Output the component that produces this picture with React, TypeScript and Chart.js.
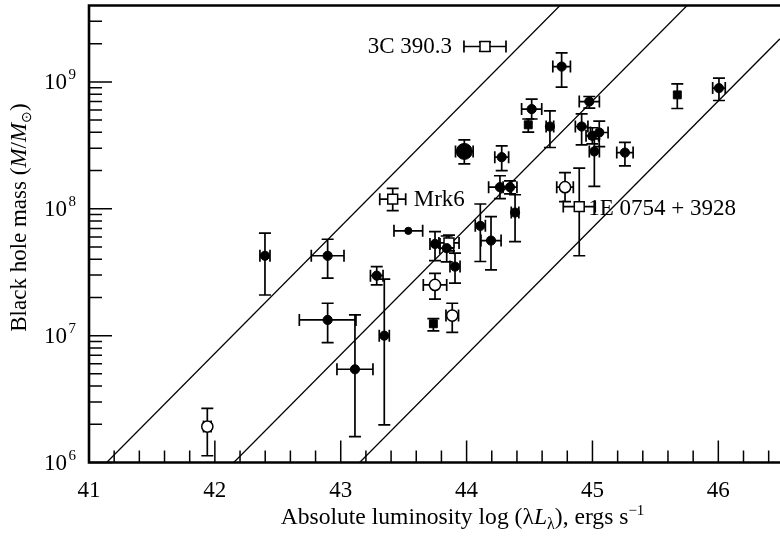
import { useEffect, useRef } from "react";
import { Chart, registerables } from "chart.js";

Chart.register(...registerables);

// ---- axes ----
const xMin = 41;
const xMax = 46.49;
const yMin = 1e6;
const yMax = 4e9;
const xTickLabels = [41, 42, 43, 44, 45, 46];
const yTickExponents = [6, 7, 8, 9];

// ---- reference relations: log M = log(λLλ) − offset ----
const relationOffsets = [35.14, 36.15, 37.15];

// ---- filled circles ----
const filledLogL = [44.755, 44.517, 44.975, 44.662, 44.914, 45.054, 44.999, 45.015, 45.258, 46.005, 44.279, 44.265, 44.345, 44.385, 44.109, 44.194, 43.749, 43.842, 43.908, 42.398, 42.896, 43.286, 43.346, 42.896, 43.113];
const filledMass = [1.32e9, 6.1e8, 7.0e8, 4.45e8, 4.45e8, 3.99e8, 3.76e8, 2.83e8, 2.77e8, 8.93e8, 2.55e8, 1.48e8, 1.48e8, 9.33e7, 7.33e7, 5.61e7, 5.28e7, 4.89e7, 3.5e7, 4.26e7, 4.26e7, 2.97e7, 1.0e7, 1.33e7, 5.43e6];
const filledLogLErr = [0.07, 0.08, 0.08, 0.03, 0.05, 0.07, 0.05, 0.04, 0.065, 0.05, 0.055, 0.09, 0.055, 0.03, 0.04, 0.08, 0.04, 0.055, 0.04, 0.04, 0.13, 0.05, 0.04, 0.225, 0.143];
const filledMassLow = [9.1e8, 5.1e8, 6.2e8, 3.04e8, 3.19e8, 3.09e8, 3.25e8, 1.5e8, 2.18e8, 7.13e8, 2.0e8, 1.2e8, 1.31e8, 5.5e7, 3.84e7, 3.3e7, 3.9e7, 3.81e7, 2.59e7, 2.09e7, 2.84e7, 2.51e7, 1.98e6, 8.8e6, 1.6e6];
const filledMassHigh = [1.69e9, 7.3e8, 7.67e8, 5.9e8, 5.6e8, 4.9e8, 4.35e8, 3.56e8, 3.33e8, 1.07e9, 3.13e8, 1.82e8, 1.66e8, 1.29e8, 1.09e8, 8.67e7, 6.6e7, 6.1e7, 4.47e7, 6.43e7, 5.75e7, 3.5e7, 2.79e7, 1.8e7, 1.46e7];

// ---- small filled point (luminosity error only) ----
const smallLogL = [43.537];
const smallMass = [6.7e7];
const smallLogLErr = [0.114];
const smallMassLow = [6.7e7];
const smallMassHigh = [6.7e7];

// ---- large filled point ----
const bigLogL = [43.982];
const bigMass = [2.83e8];
const bigLogLErr = [0.07];
const bigMassLow = [2.26e8];
const bigMassHigh = [3.49e8];

// ---- filled squares ----
const squareLogL = [44.49, 45.674, 43.736];
const squareMass = [4.59e8, 7.9e8, 1.24e7];
const squareLogLErr = [0, 0, 0];
const squareMassLow = [4.02e8, 6.17e8, 1.09e7];
const squareMassHigh = [5.1e8, 9.66e8, 1.36e7];

// ---- open squares (first three are named sources) ----
const openSquareLogL = [44.146, 43.413, 44.895, 43.86];
const openSquareMass = [1.9e9, 1.19e8, 1.04e8, 5.38e7];
const openSquareLogLErr = [0.167, 0.103, 0.127, 0.08];
const openSquareMassLow = [1.75e9, 9.68e7, 4.26e7, 4.65e7];
const openSquareMassHigh = [2.06e9, 1.45e8, 2.09e8, 6.2e7];
const sourceNames = ["3C 390.3", "Mrk6", "1E 0754 + 3928"];

// ---- open circles ----
const openCircleLogL = [44.782, 43.749, 43.886, 41.94];
const openCircleMass = [1.48e8, 2.51e7, 1.44e7, 1.92e6];
const openCircleLogLErr = [0.066, 0.093, 0.05, 0.03];
const openCircleMassLow = [1.14e8, 1.94e7, 1.06e7, 1.13e6];
const openCircleMassHigh = [1.93e8, 3.1e7, 1.8e7, 2.67e6];

const SERIF = '"Liberation Serif", "Times New Roman", serif';

type Run = { text: string; font: string; dy?: number };

function runsWidth(ctx: CanvasRenderingContext2D, runs: Run[]) {
  let w = 0;
  for (const r of runs) {
    ctx.font = r.font;
    w += ctx.measureText(r.text).width;
  }
  return w;
}

function drawRuns(ctx: CanvasRenderingContext2D, runs: Run[], x: number, y: number) {
  let cx = x;
  for (const r of runs) {
    ctx.font = r.font;
    ctx.fillText(r.text, cx, y + (r.dy || 0));
    cx += ctx.measureText(r.text).width;
  }
}

function points(xs: number[], ys: number[]) {
  return xs.map((x, i) => ({ x, y: ys[i] }));
}

const CAP = 6;

const errorBarPlugin = {
  id: "errorBars",
  beforeDatasetsDraw(chart: any) {
    const { ctx, scales } = chart;
    const xs = scales.x;
    const ys = scales.y;
    ctx.save();
    ctx.strokeStyle = "#000";
    ctx.lineWidth = 1.7;
    chart.data.datasets.forEach((ds: any) => {
      if (!ds.errX) return;
      ds.data.forEach((p: any, i: number) => {
        const px = xs.getPixelForValue(p.x);
        const py = ys.getPixelForValue(p.y);
        const dx = ds.errX[i];
        ctx.beginPath();
        if (dx > 0) {
          const x0 = xs.getPixelForValue(p.x - dx);
          const x1 = xs.getPixelForValue(p.x + dx);
          ctx.moveTo(x0, py);
          ctx.lineTo(x1, py);
          ctx.moveTo(x0, py - CAP);
          ctx.lineTo(x0, py + CAP);
          ctx.moveTo(x1, py - CAP);
          ctx.lineTo(x1, py + CAP);
        }
        const lo = ds.errLow[i];
        const hi = ds.errHigh[i];
        if (hi > lo) {
          const y0 = ys.getPixelForValue(hi);
          const y1 = ys.getPixelForValue(lo);
          ctx.moveTo(px, y0);
          ctx.lineTo(px, y1);
          ctx.moveTo(px - CAP, y0);
          ctx.lineTo(px + CAP, y0);
          ctx.moveTo(px - CAP, y1);
          ctx.lineTo(px + CAP, y1);
        }
        ctx.stroke();
      });
    });
    ctx.restore();
  },
};

const framePlugin = {
  id: "frame",
  afterDraw(chart: any) {
    const { ctx, chartArea, scales } = chart;
    const xs = scales.x;
    const ys = scales.y;
    const { left, right, top, bottom } = chartArea;
    ctx.save();
    ctx.strokeStyle = "#000";
    ctx.fillStyle = "#000";

    // ticks (pointing inward)
    ctx.lineWidth = 1.5;
    ctx.beginPath();
    for (let v = xMin; v <= xMax + 1e-9; v += 0.2) {
      const px = xs.getPixelForValue(v);
      const major = Math.abs(v - Math.round(v)) < 1e-6;
      ctx.moveTo(px, bottom);
      ctx.lineTo(px, bottom - (major ? 22 : 12));
    }
    for (let e = 6; e <= 9; e++) {
      for (let k = 1; k <= 9; k++) {
        const val = k * Math.pow(10, e);
        if (val < yMin || val >= yMax) continue;
        const py = ys.getPixelForValue(val);
        ctx.moveTo(left, py);
        ctx.lineTo(left + (k === 1 ? 23 : 13), py);
      }
    }
    ctx.stroke();

    // frame lines
    ctx.lineWidth = 2.6;
    ctx.beginPath();
    ctx.moveTo(right + 2, top);
    ctx.lineTo(left, top);
    ctx.lineTo(left, bottom);
    ctx.lineTo(right + 2, bottom);
    ctx.stroke();

    // x tick labels
    ctx.font = `23px ${SERIF}`;
    ctx.textAlign = "center";
    ctx.textBaseline = "alphabetic";
    xTickLabels.forEach((v) => {
      ctx.fillText(String(v), xs.getPixelForValue(v), bottom + 34);
    });

    // y tick labels 10^n
    yTickExponents.forEach((e) => {
      const py = ys.getPixelForValue(Math.pow(10, e));
      ctx.textAlign = "right";
      ctx.font = `23px ${SERIF}`;
      ctx.fillText("10", 67, py + 7.5);
      ctx.textAlign = "left";
      ctx.font = `15px ${SERIF}`;
      ctx.fillText(String(e), 68.5, py - 2.5);
    });

    // x axis title
    ctx.textAlign = "left";
    const xTitle: Run[] = [
      { text: "Absolute luminosity log (\u03BB", font: `23.6px ${SERIF}` },
      { text: "L", font: `italic 23.6px ${SERIF}` },
      { text: "\u03BB", font: `16px ${SERIF}`, dy: 5 },
      { text: "), ergs s", font: `23.6px ${SERIF}` },
      { text: "\u22121", font: `15px ${SERIF}`, dy: -9 },
    ];
    const xw = runsWidth(ctx, xTitle);
    drawRuns(ctx, xTitle, 462.5 - xw / 2, 524);

    // y axis title
    const yTitle: Run[] = [
      { text: "Black hole mass (", font: `23px ${SERIF}` },
      { text: "M", font: `italic 23px ${SERIF}` },
      { text: "/", font: `23px ${SERIF}` },
      { text: "M", font: `italic 23px ${SERIF}` },
      { text: "\u2299", font: `14px ${SERIF}`, dy: 5 },
      { text: ")", font: `23px ${SERIF}` },
    ];
    const yw = runsWidth(ctx, yTitle);
    ctx.save();
    ctx.translate(25.5, 217.5 + yw / 2);
    ctx.rotate(-Math.PI / 2);
    drawRuns(ctx, yTitle, 0, 0);
    ctx.restore();

    // source names next to their points
    ctx.font = `23px ${SERIF}`;
    sourceNames.forEach((name, i) => {
      const px = xs.getPixelForValue(openSquareLogL[i]);
      const py = ys.getPixelForValue(openSquareMass[i]);
      if (i === 0) {
        ctx.textAlign = "right";
        ctx.fillText(name, px - 33, py + 6.5);
      } else if (i === 1) {
        ctx.textAlign = "left";
        ctx.fillText(name, px + 21, py + 7);
      } else {
        ctx.textAlign = "left";
        ctx.fillText(name, px + 9, py + 8);
      }
    });
    ctx.restore();
  },
};

export default function App() {
  const canvasRef = useRef<HTMLCanvasElement | null>(null);

  useEffect(() => {
    if (!canvasRef.current) return;

    const lineDatasets = relationOffsets.map((off) => ({
      type: "line" as const,
      data: [
        { x: xMin, y: Math.pow(10, xMin - off) },
        { x: xMax, y: Math.pow(10, xMax - off) },
      ],
      borderColor: "#000",
      borderWidth: 1.3,
      pointRadius: 0,
      fill: false,
      order: 5,
    }));

    const markerDatasets: any[] = [
      {
        data: points(filledLogL, filledMass),
        errX: filledLogLErr,
        errLow: filledMassLow,
        errHigh: filledMassHigh,
        pointStyle: "circle",
        pointRadius: 4.6,
        backgroundColor: "#000",
        borderColor: "#000",
        borderWidth: 1,
      },
      {
        data: points(smallLogL, smallMass),
        errX: smallLogLErr,
        errLow: smallMassLow,
        errHigh: smallMassHigh,
        pointStyle: "circle",
        pointRadius: 3.6,
        backgroundColor: "#000",
        borderColor: "#000",
        borderWidth: 1,
      },
      {
        data: points(bigLogL, bigMass),
        errX: bigLogLErr,
        errLow: bigMassLow,
        errHigh: bigMassHigh,
        pointStyle: "circle",
        pointRadius: 8,
        backgroundColor: "#000",
        borderColor: "#000",
        borderWidth: 1,
      },
      {
        data: points(squareLogL, squareMass),
        errX: squareLogLErr,
        errLow: squareMassLow,
        errHigh: squareMassHigh,
        pointStyle: "rect",
        pointRadius: 5.6,
        backgroundColor: "#000",
        borderColor: "#000",
        borderWidth: 1,
      },
      {
        data: points(openSquareLogL, openSquareMass),
        errX: openSquareLogLErr,
        errLow: openSquareMassLow,
        errHigh: openSquareMassHigh,
        pointStyle: "rect",
        pointRadius: 7,
        backgroundColor: "#fff",
        borderColor: "#000",
        borderWidth: 1.5,
      },
      {
        data: points(openCircleLogL, openCircleMass),
        errX: openCircleLogLErr,
        errLow: openCircleMassLow,
        errHigh: openCircleMassHigh,
        pointStyle: "circle",
        pointRadius: 5.6,
        backgroundColor: "#fff",
        borderColor: "#000",
        borderWidth: 1.5,
      },
    ].map((d) => ({ ...d, type: "scatter" as const, order: 0, pointHoverRadius: d.pointRadius }));

    const chart = new Chart(canvasRef.current, {
      type: "scatter",
      data: { datasets: [...markerDatasets, ...lineDatasets] as any },
      options: {
        responsive: false,
        animation: false,
        events: [],
        layout: { autoPadding: false, padding: { left: 89, right: 0, top: 5.5, bottom: 78.5 } },
        plugins: {
          legend: { display: false },
          tooltip: { enabled: false },
        },
        scales: {
          x: { type: "linear", min: xMin, max: xMax, display: false },
          y: { type: "logarithmic", min: yMin, max: yMax, display: false },
        },
      },
      plugins: [errorBarPlugin, framePlugin],
    });

    return () => chart.destroy();
  }, []);

  return (
    <canvas
      ref={canvasRef}
      width={780}
      height={541}
      style={{ position: "fixed", left: 0, top: 0, width: 780, height: 541, background: "#fff" }}
    />
  );
}
